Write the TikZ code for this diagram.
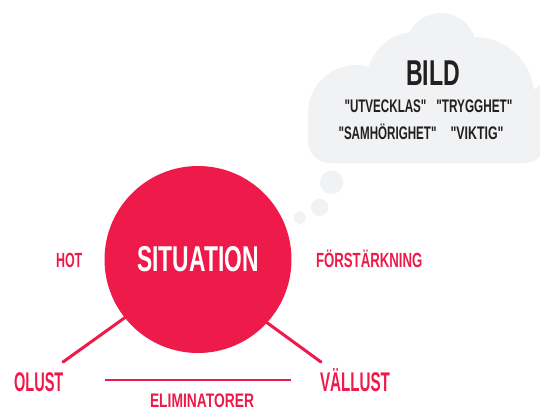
\documentclass[tikz,border=0pt]{standalone}
\usepackage{fontspec}
\setmainfont{Liberation Sans}
\usepackage{graphicx}
\definecolor{crim}{HTML}{EE1A4A}
\definecolor{cloudg}{HTML}{F1F2F3}
\definecolor{ink}{HTML}{231F20}
\newcommand\fitw[2]{\resizebox{#1}{\height}{#2}}
\newcommand\fsz[1]{\bfseries\fontsize{#1}{#1}\selectfont}
\newcommand\qq{\textquotedbl}
\begin{document}
\begin{tikzpicture}[x=1pt,y=-1pt,
  redlbl/.style={inner sep=0, anchor=base, text=crim},
  cloudlbl/.style={inner sep=0, anchor=base, text=ink},
  armline/.style={draw=crim, line width=3pt, line cap=round},
  elimline/.style={draw=crim, line width=1.6pt},
  puff/.style={fill=cloudg}]
\useasboundingbox (0,0) rectangle (540,410);
% cloud
\fill[puff] (356,113) circle[radius=48pt] (415,80) circle[radius=48pt]
  (441,48) circle[radius=35pt] (475,96) circle[radius=59pt]
  (560,120) circle[radius=40pt];
\fill[puff, rounded corners=22pt] (308,95) rectangle (546,163);
% thought bubbles
\fill[puff] (331.7,182.3) circle[radius=11.7pt];
\fill[puff] (319.7,207.3) circle[radius=8.7pt];
\fill[puff] (299.7,217.7) circle[radius=6.2pt];
% cloud text
\node[cloudlbl, font=\fsz{35.9}] (bild) at (433,85) {\fitw{54pt}{BILD}};
\node[cloudlbl, font=\fsz{18.2}] (utv) at (385.5,112.5) {\fitw{82pt}{\qq UTVECKLAS\qq}};
\node[cloudlbl, font=\fsz{18.2}] (tryg) at (474.4,112.5) {\fitw{76pt}{\qq TRYGGHET\qq}};
\node[cloudlbl, font=\fsz{18.2}] (samh) at (387.5,139.5) {\fitw{98pt}{\qq SAMHÖRIGHET\qq}};
\node[cloudlbl, font=\fsz{18.2}] (vikt) at (477,139.5) {\fitw{53pt}{\qq VIKTIG\qq}};
% arms (behind the circle)
\coordinate (lout) at (63,362);
\coordinate (lin) at (140,306.8);
\coordinate (rout) at (321,362);
\coordinate (rin) at (245,306.6);
\draw[armline] (lout) -- (lin);
\draw[armline] (rout) -- (rin);
% main circle
\node[circle, fill=crim, minimum size=187pt, inner sep=0, text=white,
  font=\fsz{35.9}] (sit) at (198,259.5) {\fitw{121.3pt}{SITUATION}};
% side labels
\node[redlbl, font=\fsz{20.5}] (hot) at (69.2,267.3) {\fitw{26.3pt}{HOT}};
\node[redlbl, font=\fsz{20.5}] (forst) at (369.2,267.3) {\fitw{106.3pt}{FÖRSTÄRKNING}};
\node[redlbl, font=\fsz{27}] (olust) at (38.7,391.7) {\fitw{49.3pt}{OLUST}};
\node[redlbl, font=\fsz{27}] (vallust) at (355,391.7) {\fitw{70pt}{VÄLLUST}};
\node[redlbl, font=\fsz{19.6}] (elim) at (202,407) {\fitw{104pt}{ELIMINATORER}};
% eliminator line
\coordinate (el) at (105,380);
\coordinate (er) at (291,380);
\draw[elimline] (el) -- (er);
\end{tikzpicture}
\end{document}
